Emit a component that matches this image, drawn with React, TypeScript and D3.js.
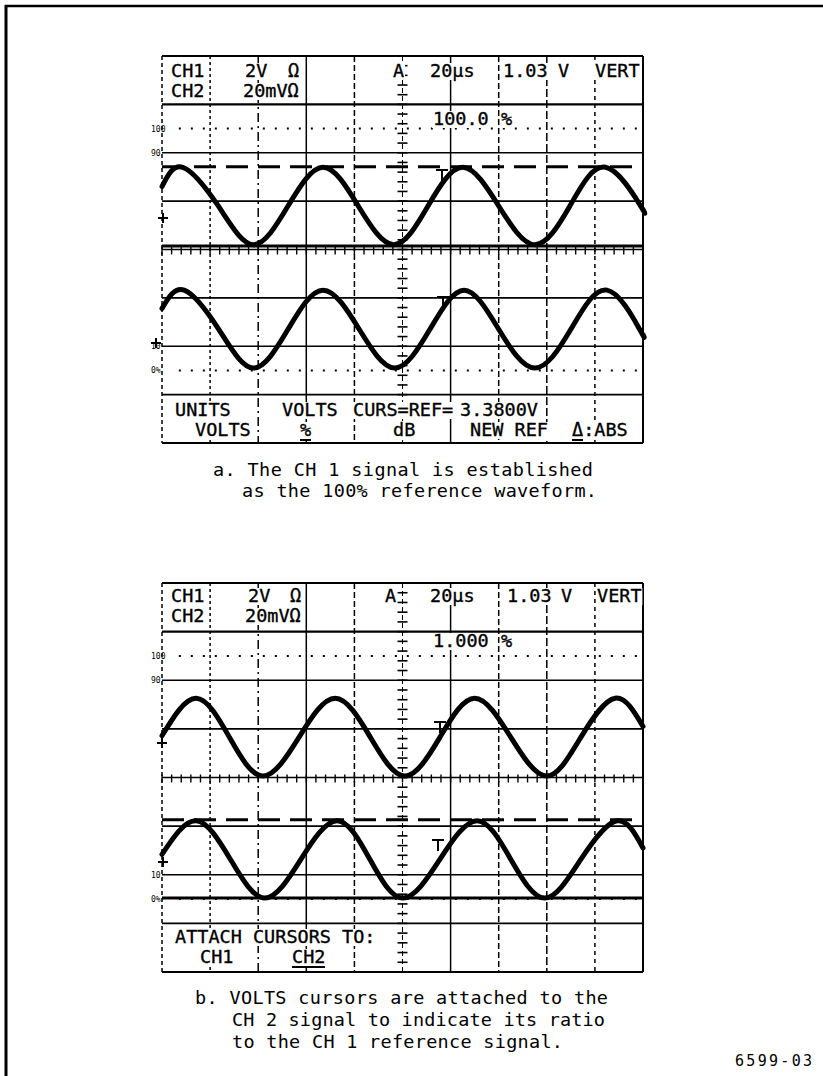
import React from "react";
import * as d3 from "d3";

type Pt = [number, number];

const ch1A: Pt[] = [[0, 1.3], [0.43, 1.7], [1.17, 0.9], [1.9, 0.1], [2.62, 0.9], [3.35, 1.7], [4.08, 0.9], [4.82, 0.1], [5.53, 0.9], [6.25, 1.7], [7.0, 0.9], [7.75, 0.1], [8.48, 0.9], [9.22, 1.7], [9.95, 0.9], [10, 0.83]];
const ch2A: Pt[] = [[0, -1.22], [0.46, -0.84], [1.18, -1.65], [1.9, -2.45], [2.62, -1.65], [3.35, -0.84], [4.1, -1.65], [4.84, -2.45], [5.57, -1.65], [6.28, -0.84], [7.0, -1.65], [7.75, -2.45], [8.5, -1.65], [9.25, -0.84], [9.93, -1.65], [10, -1.76]];
const ch1B: Pt[] = [[0, 0.86], [0.71, 1.63], [1.4, 0.83], [2.1, 0.03], [2.85, 0.83], [3.6, 1.63], [4.33, 0.83], [5.05, 0.03], [5.78, 0.83], [6.5, 1.63], [7.25, 0.83], [8.0, 0.03], [8.71, 0.83], [9.42, 1.63], [10, 1.05]];
const ch2B: Pt[] = [[0, -1.58], [0.71, -0.89], [1.42, -1.68], [2.14, -2.48], [2.89, -1.68], [3.64, -0.89], [4.32, -1.68], [5.01, -2.48], [5.78, -1.68], [6.55, -0.89], [7.25, -1.68], [7.96, -2.48], [8.71, -1.68], [9.46, -0.89], [10, -1.45]];

// cursor levels (divisions)
const cursorsA = { dashed: 1.71, solid: 0.07 };
const cursorsB = { dashed: -0.87, solid: -2.48 };

// percentage graticule marks
const pctLines = [
  { label: "100", v: 2.5, dotted: true },
  { label: "90", v: 2, dotted: false },
  { label: "10", v: -2, dotted: false },
  { label: "0%", v: -2.5, dotted: true },
];

const captionA = ["a. The CH 1 signal is established", "as the 100% reference waveform."];
const captionB = ["b. VOLTS cursors are attached to the", "CH 2 signal to indicate its ratio", "to the CH 1 reference signal."];

const W = 823;
const H = 1076;
const FONT = "'DejaVu Sans Mono', monospace";

const xs = d3.scaleLinear().domain([0, 10]).range([162, 643]);

// vertical graticule dash patterns by division index
const vDash: Record<number, string | undefined> = { 0: "4,3", 1: "3,3", 2: "9,4,2,4", 3: undefined, 4: "6,3", 6: undefined, 7: "6,3", 8: "8,3", 9: "4,4", 10: undefined };

interface Label { t: string; x: number; y: number; u?: number }

interface ScreenProps {
  top: number;
  bottom: number;
  ch1: Pt[];
  ch2: Pt[];
  cursors: { dashed: number; solid: number };
  labels: Label[];
  markers: Pt[];
  plus: Pt[];
}

const Screen = ({ top, bottom, ch1, ch2, cursors, labels, markers, plus }: ScreenProps) => {
  const ys = d3.scaleLinear().domain([4, -4]).range([top, bottom]);
  const line = d3.line<Pt>().x((d) => xs(d[0])).y((d) => ys(d[1])).curve(d3.curveNatural);
  const hTicks = d3.range(0, 10.001, 0.2);
  const vTicks = d3.range(-4, 4.001, 0.2);

  return (
    <g>
      {/* horizontal graticule */}
      {d3.range(-4, 5).map((v) => (
        <line key={`h${v}`} x1={xs(0)} x2={xs(10)} y1={ys(v)} y2={ys(v)} stroke="#000"
          strokeWidth={Math.abs(v) === 4 || v === 3 ? 2.2 : 1.6} />
      ))}
      {/* vertical graticule */}
      {d3.range(0, 11).filter((i) => i !== 5).map((i) => (
        <line key={`v${i}`} x1={xs(i)} x2={xs(i)} y1={ys(4)} y2={ys(-4)} stroke="#000"
          strokeWidth={i === 10 ? 2 : 1.5} strokeDasharray={vDash[i]} />
      ))}
      {/* center axes with minor ticks */}
      <line x1={xs(5)} x2={xs(5)} y1={ys(4)} y2={ys(-4)} stroke="#000" strokeWidth={1} strokeDasharray="5,3" />
      {vTicks.map((v, i) => (
        <line key={`vt${i}`} x1={xs(5) - 5} x2={xs(5) + 5} y1={ys(v)} y2={ys(v)} stroke="#000" strokeWidth={1.6} />
      ))}
      {hTicks.map((v, i) => (
        <line key={`ht${i}`} x1={xs(v)} x2={xs(v)} y1={ys(0) - 3} y2={ys(0) + 5} stroke="#000" strokeWidth={1.4} />
      ))}
      {/* percentage marks */}
      {pctLines.map((p) => (
        <g key={p.label}>
          {p.dotted && (
            <line x1={xs(0.35)} x2={xs(10)} y1={ys(p.v)} y2={ys(p.v)} stroke="#000" strokeWidth={2}
              strokeDasharray="2,10" />
          )}
          <text x={151} y={ys(p.v) + 3} fontSize={8} fontFamily={FONT}>{p.label}</text>
        </g>
      ))}
      {/* cursors */}
      <line x1={xs(0)} x2={xs(10)} y1={ys(cursors.dashed)} y2={ys(cursors.dashed)} stroke="#000" strokeWidth={3}
        strokeDasharray="22,10" />
      <line x1={xs(0)} x2={xs(10)} y1={ys(cursors.solid)} y2={ys(cursors.solid)} stroke="#000" strokeWidth={3} />
      {markers.map((m, i) => (
        <g key={`m${i}`} stroke="#000" strokeWidth={2}>
          <line x1={m[0] - 6} x2={m[0] + 6} y1={m[1]} y2={m[1]} />
          <line x1={m[0]} x2={m[0]} y1={m[1]} y2={m[1] + 11} />
        </g>
      ))}
      {plus.map((p, i) => (
        <g key={`p${i}`} stroke="#000" strokeWidth={2}>
          <line x1={p[0] - 5} x2={p[0] + 5} y1={p[1]} y2={p[1]} />
          <line x1={p[0]} x2={p[0]} y1={p[1] - 5} y2={p[1] + 5} />
        </g>
      ))}
      {/* traces */}
      <path d={line(ch1) ?? ""} fill="none" stroke="#000" strokeWidth={5} strokeLinecap="round" />
      <path d={line(ch2) ?? ""} fill="none" stroke="#000" strokeWidth={5} strokeLinecap="round" />
      {/* readouts */}
      {labels.map((l, i) => (
        <g key={`l${i}`}>
          <rect x={l.x - 1} y={l.y - 14} width={l.t.length * 11.1 + 2} height={17} fill="#fff" />
          <text x={l.x} y={l.y} fontSize={18.5} fontFamily={FONT} stroke="#000" strokeWidth={0.35}>{l.t}</text>
          {l.u !== undefined && (
            <line x1={l.x} x2={l.x + l.u} y1={l.y + 4} y2={l.y + 4} stroke="#000" strokeWidth={2} />
          )}
        </g>
      ))}
    </g>
  );
};

const labelsA: Label[] = [
  { t: "CH1", x: 171, y: 77 }, { t: "CH2", x: 171, y: 97 },
  { t: "2V", x: 245, y: 77 }, { t: "Ω", x: 288, y: 77 },
  { t: "20mVΩ", x: 243, y: 97 },
  { t: "A", x: 393, y: 77 }, { t: "20µs", x: 430, y: 77 },
  { t: "1.03", x: 503, y: 77 }, { t: "V", x: 558, y: 77 },
  { t: "VERT", x: 595, y: 77 },
  { t: "100.0", x: 433, y: 125 }, { t: "%", x: 501, y: 125 },
  { t: "UNITS", x: 175, y: 416 }, { t: "VOLTS", x: 282, y: 416 },
  { t: "CURS=REF=", x: 353, y: 416 }, { t: "3.3800V", x: 460, y: 416 },
  { t: "VOLTS", x: 195, y: 436 }, { t: "%", x: 300, y: 436, u: 11 },
  { t: "dB", x: 393, y: 436 }, { t: "NEW REF", x: 470, y: 436 },
  { t: "Δ:ABS", x: 572, y: 436, u: 11 },
];

const labelsB: Label[] = [
  { t: "CH1", x: 171, y: 602 }, { t: "CH2", x: 171, y: 622 },
  { t: "2V", x: 248, y: 602 }, { t: "Ω", x: 290, y: 602 },
  { t: "20mVΩ", x: 245, y: 622 },
  { t: "A", x: 385, y: 602 }, { t: "20µs", x: 430, y: 602 },
  { t: "1.03", x: 507, y: 602 }, { t: "V", x: 561, y: 602 },
  { t: "VERT", x: 597, y: 602 },
  { t: "1.000", x: 433, y: 647 }, { t: "%", x: 501, y: 647 },
  { t: "ATTACH CURSORS TO:", x: 175, y: 943 },
  { t: "CH1", x: 200, y: 963 }, { t: "CH2", x: 292, y: 963, u: 33 },
];

// measured widths of caption lines
const capWidthA = [380, 355];
const capWidthB = [413, 373, 331];

export default function App() {
  return (
    <svg width={W} height={H} viewBox={`0 0 ${W} ${H}`}
      style={{ position: "absolute", left: 0, top: 0, background: "#fff" }}>
      <rect x={0} y={0} width={W} height={H} fill="#fff" />
      {/* page frame */}
      <line x1={5} x2={W} y1={6} y2={6} stroke="#000" strokeWidth={2.5} />
      <line x1={6} x2={6} y1={5} y2={H} stroke="#000" strokeWidth={3} />

      <Screen top={56} bottom={443} ch1={ch1A} ch2={ch2A} cursors={cursorsA} labels={labelsA}
        markers={[[442, 170], [443, 297]]} plus={[[163, 218], [156, 343]]} />
      <Screen top={583} bottom={972} ch1={ch1B} ch2={ch2B} cursors={cursorsB} labels={labelsB}
        markers={[[440, 722], [438, 840]]} plus={[[162, 743], [163, 862]]} />

      {captionA.map((t, i) => (
        <text key={`ca${i}`} x={i === 0 ? 213 : 242} y={476 + i * 20.5} fontSize={18.5} fontFamily={FONT}
          textLength={capWidthA[i]} lengthAdjust="spacing">{t}</text>
      ))}
      {captionB.map((t, i) => (
        <text key={`cb${i}`} x={i === 0 ? 195 : 232} y={1004 + i * 22} fontSize={18.5} fontFamily={FONT}
          textLength={capWidthB[i]} lengthAdjust="spacing">{t}</text>
      ))}
      <text x={735} y={1066} fontSize={15} fontFamily={FONT} textLength={77}>6599-03</text>
    </svg>
  );
}
